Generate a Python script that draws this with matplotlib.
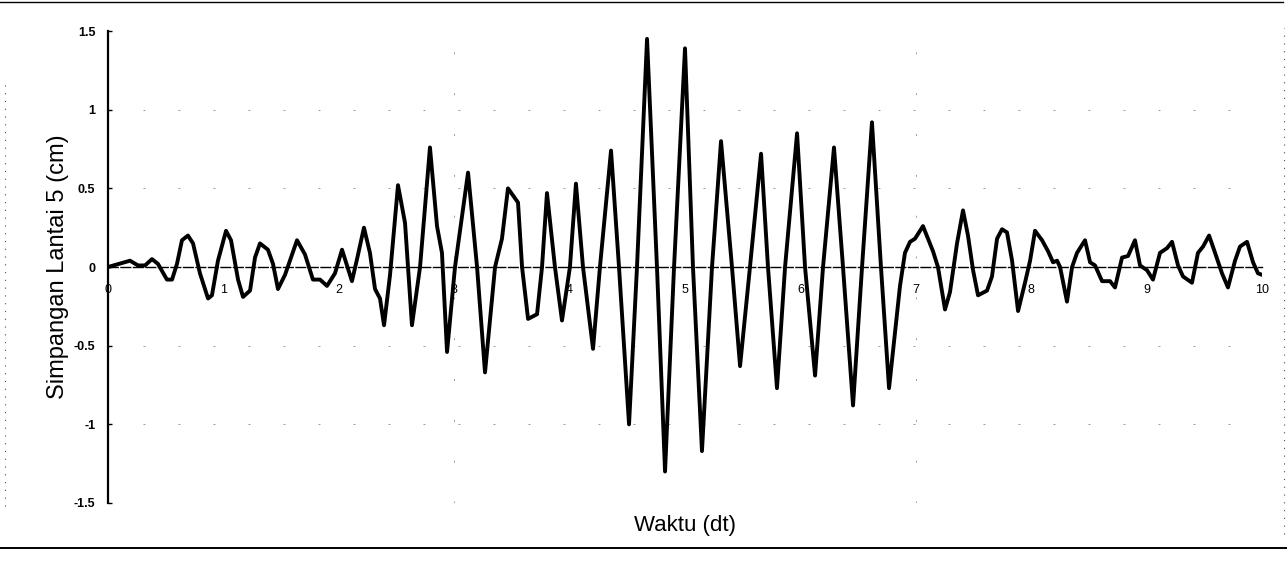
import numpy as np
import matplotlib
matplotlib.use("Agg")
import matplotlib.pyplot as plt
from matplotlib.lines import Line2D

plt.rcParams['font.family'] = ['Liberation Sans', 'DejaVu Sans']

# respon simpangan lantai 5 terhadap waktu
waktu = [0.000, 0.191, 0.260, 0.321, 0.381, 0.433, 0.511, 0.555, 0.598, 0.641,
         0.693, 0.737, 0.797, 0.867, 0.901, 0.953, 1.023, 1.066, 1.127, 1.170,
         1.231, 1.274, 1.317, 1.386, 1.430, 1.473, 1.534, 1.638, 1.707, 1.776,
         1.837, 1.898, 1.967, 2.028, 2.071, 2.114, 2.158, 2.218, 2.270, 2.314,
         2.357, 2.392, 2.444, 2.513, 2.574, 2.634, 2.704, 2.790, 2.851, 2.894,
         2.938, 3.007, 3.120, 3.198, 3.267, 3.354, 3.414, 3.466, 3.553, 3.588,
         3.640, 3.718, 3.761, 3.804, 3.873, 3.934, 4.003, 4.055, 4.116, 4.203,
         4.263, 4.359, 4.428, 4.515, 4.584, 4.671, 4.757, 4.827, 4.905, 5.000,
         5.069, 5.147, 5.234, 5.312, 5.407, 5.477, 5.563, 5.659, 5.719, 5.797,
         5.867, 5.971, 6.040, 6.127, 6.196, 6.291, 6.369, 6.456, 6.534, 6.620,
         6.698, 6.768, 6.863, 6.906, 6.950, 6.993, 7.062, 7.106, 7.149, 7.192,
         7.253, 7.296, 7.357, 7.409, 7.452, 7.496, 7.539, 7.617, 7.660, 7.704,
         7.747, 7.790, 7.834, 7.886, 7.946, 7.990, 8.033, 8.094, 8.146, 8.189,
         8.224, 8.250, 8.310, 8.354, 8.397, 8.466, 8.510, 8.553, 8.614, 8.683,
         8.726, 8.787, 8.839, 8.899, 8.943, 9.003, 9.055, 9.116, 9.177, 9.220,
         9.272, 9.315, 9.393, 9.445, 9.489, 9.541, 9.593, 9.653, 9.705, 9.766,
         9.809, 9.870, 9.922, 9.965, 10.000]
simpangan = [0.00, 0.04, 0.01, 0.01, 0.05, 0.02, -0.08, -0.08, 0.02, 0.17,
             0.20, 0.15, -0.04, -0.20, -0.18, 0.04, 0.23, 0.17, -0.08, -0.19,
             -0.15, 0.06, 0.15, 0.11, 0.02, -0.14, -0.05, 0.17, 0.08, -0.08,
             -0.08, -0.12, -0.04, 0.11, 0.01, -0.09, 0.05, 0.25, 0.09, -0.14,
             -0.20, -0.37, -0.05, 0.52, 0.28, -0.37, 0.00, 0.76, 0.26, 0.09,
             -0.54, 0.00, 0.60, 0.00, -0.67, 0.00, 0.18, 0.50, 0.41, 0.00,
             -0.33, -0.30, 0.00, 0.47, 0.00, -0.34, 0.00, 0.53, 0.00, -0.52,
             0.00, 0.74, 0.00, -1.00, 0.00, 1.45, 0.00, -1.30, 0.00, 1.39,
             0.00, -1.17, 0.00, 0.80, 0.00, -0.63, 0.00, 0.72, 0.00, -0.77,
             0.00, 0.85, 0.00, -0.69, 0.00, 0.76, 0.00, -0.88, 0.00, 0.92,
             0.00, -0.77, -0.12, 0.09, 0.16, 0.18, 0.26, 0.18, 0.10, 0.00,
             -0.27, -0.16, 0.15, 0.36, 0.20, -0.02, -0.18, -0.15, -0.06, 0.18,
             0.24, 0.22, 0.04, -0.28, -0.10, 0.04, 0.23, 0.17, 0.10, 0.03,
             0.04, 0.00, -0.22, 0.00, 0.09, 0.17, 0.03, 0.01, -0.09, -0.09,
             -0.13, 0.06, 0.07, 0.17, 0.01, -0.02, -0.08, 0.09, 0.12, 0.16,
             0.01, -0.06, -0.10, 0.09, 0.13, 0.20, 0.09, -0.04, -0.13, 0.04,
             0.13, 0.16, 0.03, -0.04, -0.05]

x_ticks = [0, 1, 2, 3, 4, 5, 6, 7, 8, 9, 10]
y_ticks = [-1.5, -1, -0.5, 0, 0.5, 1, 1.5]
y_labels = ['-1.5', '-1', '-0.5', '0', '0.5', '1', '1.5']

fig = plt.figure(figsize=(12.87, 5.62), dpi=100)
ax = fig.add_axes([0.0839, 0.105, 0.8967, 0.8398])

# garis grid tipis (hampir hilang)
for yv in [-1.5, -1, -0.5, 0.5, 1]:
    ax.axhline(yv, color='0.6', lw=0.7, ls=(0, (2, 34)), zorder=1)
for xv in [3, 7]:
    ax.axvline(xv, color='0.6', lw=0.7, ls=(0, (2, 40)), zorder=1)

ax.plot(waktu, simpangan, color='black', lw=2.8, solid_joinstyle='round',
        solid_capstyle='round', zorder=3)

ax.set_xlim(0, 10)
ax.set_ylim(-1.5, 1.5)

for s in ['top', 'right']:
    ax.spines[s].set_visible(False)
ax.spines['left'].set_linewidth(1.6)
ax.spines['bottom'].set_position(('data', 0))
ax.spines['bottom'].set_linewidth(1.0)
ax.spines['bottom'].set_linestyle((0, (7, 2)))

ax.set_xticks(x_ticks)
ax.set_xticklabels([str(v) for v in x_ticks], fontsize=9)
ax.tick_params(axis='x', length=0, pad=12)
ax.set_yticks(y_ticks)
ax.set_yticklabels(y_labels, fontsize=9, fontweight='bold')
ax.tick_params(axis='y', length=3, direction='in', width=1, pad=9)

ax.set_xlabel('Waktu (dt)', fontsize=16)
ax.xaxis.set_label_coords(0.5, -0.025)
ax.set_ylabel('Simpangan Lantai 5 (cm)', fontsize=17)
ax.yaxis.set_label_coords(-0.034, 0.5)

# bingkai grafik
fig.add_artist(Line2D([0.0, 0.997], [0.997, 0.997], color='black', lw=1.0))
fig.add_artist(Line2D([0.0, 1.0], [0.025, 0.025], color='black', lw=1.4))
fig.add_artist(Line2D([0.004, 0.004], [0.1, 0.85], color='0.3', lw=0.8, ls=(0, (1, 6))))
fig.add_artist(Line2D([0.9975, 0.9975], [0.05, 0.95], color='0.3', lw=0.8, ls=(0, (1, 6))))

fig.savefig('out.png', dpi=100)
